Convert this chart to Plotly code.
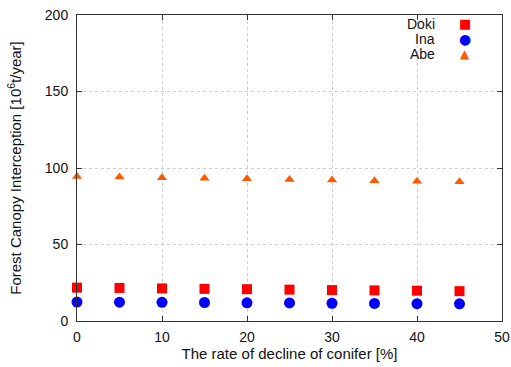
import plotly.graph_objects as go

rate = [0, 5, 10, 15, 20, 25, 30, 35, 40, 45]
doki = [21.8, 21.6, 21.3, 21.0, 20.8, 20.5, 20.2, 20.0, 19.8, 19.5]
ina = [12.4, 12.3, 12.2, 12.1, 11.9, 11.8, 11.6, 11.5, 11.3, 11.2]
abe = [94.5, 94.1, 93.7, 93.3, 92.9, 92.5, 92.1, 91.7, 91.3, 91.0]

series_names = ["Doki", "Ina", "Abe"]
series_colors = ["#ff0000", "#0000ff", "#ff5a00"]
legend_glyphs = ["■", "●", "▲"]
x_ticks = [0, 10, 20, 30, 40, 50]
y_ticks = [0, 50, 100, 150, 200]

FONT = "Liberation Sans, Arial, sans-serif"

fig = go.Figure()
fig.add_trace(go.Scatter(x=rate, y=doki, mode="markers", name=series_names[0], cliponaxis=False,
                         marker=dict(symbol="square", size=10, color=series_colors[0])))
fig.add_trace(go.Scatter(x=rate, y=ina, mode="markers", name=series_names[1], cliponaxis=False,
                         marker=dict(symbol="circle", size=11, color=series_colors[1])))
fig.add_trace(go.Scatter(x=rate, y=abe, mode="markers", name=series_names[2], cliponaxis=False,
                         marker=dict(symbol="triangle-up", size=9, color=series_colors[2])))

axis_common = dict(showline=True, linecolor="#333333", linewidth=1, mirror="ticks",
                   ticks="inside", ticklen=5, tickcolor="#333333",
                   showgrid=True, gridcolor="#cccccc", griddash="dot", gridwidth=1,
                   zeroline=False, automargin=False, ticklabeloverflow="allow",
                   tickfont=dict(family=FONT, size=14, color="#111111"))

fig.update_layout(
    width=511, height=367,
    margin=dict(l=77, r=9, t=15, b=46),
    paper_bgcolor="white", plot_bgcolor="white",
    font=dict(family=FONT, size=14, color="#111111"),
    xaxis=dict(range=[0, 50], tickvals=x_ticks, ticklabelstandoff=3, **axis_common,
               title=dict(text="The rate of decline of conifer [%]", standoff=4,
                          font=dict(family=FONT, size=15))),
    yaxis=dict(range=[0, 200], tickvals=y_ticks, ticklabelstandoff=5, **axis_common,
               title=dict(text="Forest Canopy Interception [10<sup>6</sup>t/year]", standoff=19,
                          font=dict(family=FONT, size=15))),
    showlegend=False,
)

# gnuplot-style key: name right-aligned, then the symbol
row_y = [0.971, 0.920, 0.874]
glyph_sizes = [13, 14, 12]
for nm, col, g, gs, yy in zip(series_names, series_colors, legend_glyphs, glyph_sizes, row_y):
    fig.add_annotation(text=nm, xref="paper", yref="paper", x=0.847, y=yy,
                       xanchor="right", yanchor="middle", showarrow=False,
                       font=dict(family=FONT, size=14, color="#111111"))
    fig.add_annotation(text=g, xref="paper", yref="paper", x=0.913, y=yy,
                       xanchor="center", yanchor="middle", showarrow=False,
                       font=dict(family="DejaVu Sans", size=gs, color=col))

# remove the browser's default 8px body margin so the figure fills the window
fig.write_html("out.html", config={"displayModeBar": False},
               post_script="document.body.style.margin='0';")
